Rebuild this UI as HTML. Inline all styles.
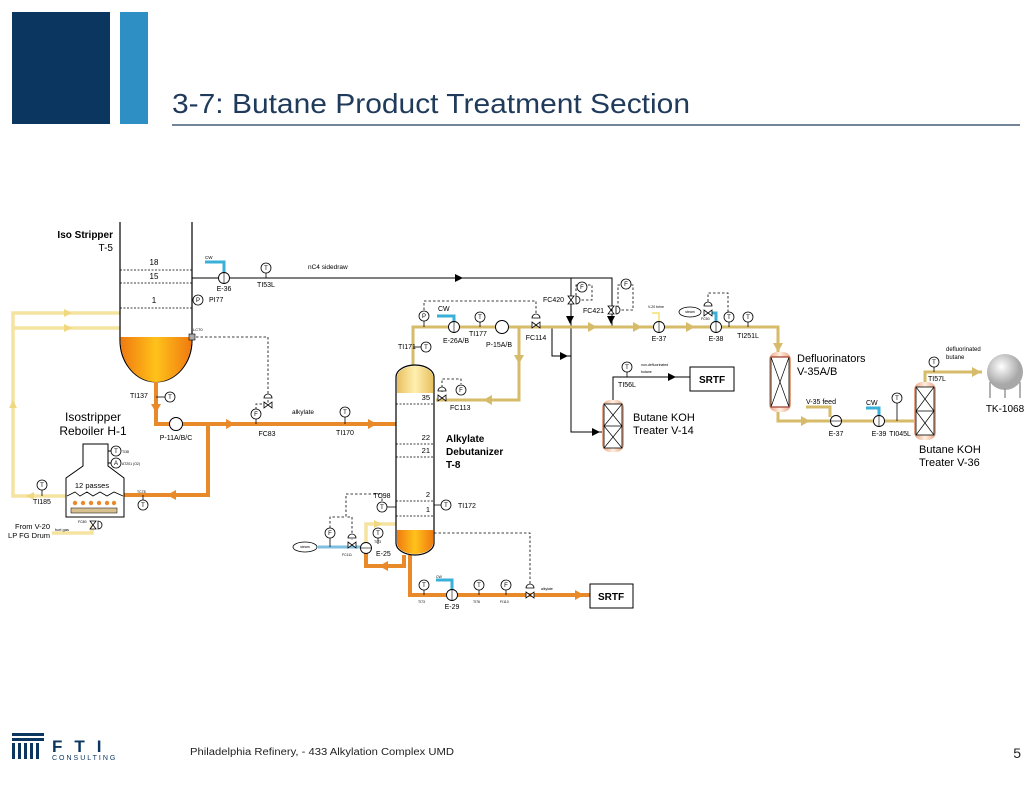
<!DOCTYPE html>
<html><head><meta charset="utf-8"><style>
html,body{margin:0;padding:0;background:#fff;}
body{width:1032px;height:792px;position:relative;overflow:hidden;font-family:"Liberation Sans",sans-serif;}
svg text{font-family:"Liberation Sans",sans-serif;}
</style></head><body>
<svg width="1032" height="792" viewBox="0 0 1032 792" xmlns="http://www.w3.org/2000/svg">
<defs>
<linearGradient id="org" x1="0" x2="1"><stop offset="0" stop-color="#f07a10"/><stop offset="0.5" stop-color="#ffc21a"/><stop offset="1" stop-color="#f07a10"/></linearGradient>
<linearGradient id="yel" x1="0" x2="1"><stop offset="0" stop-color="#e8c060"/><stop offset="0.5" stop-color="#fff0b0"/><stop offset="1" stop-color="#e8c060"/></linearGradient>
<linearGradient id="pnk" x1="0" x2="1"><stop offset="0" stop-color="#e8a080"/><stop offset="0.5" stop-color="#fff0e0"/><stop offset="1" stop-color="#e8a080"/></linearGradient>
<radialGradient id="sph" cx="0.4" cy="0.35"><stop offset="0" stop-color="#fff"/><stop offset="1" stop-color="#a8a8a8"/></radialGradient>
<marker id="ab" markerWidth="8" markerHeight="8" refX="4" refY="4" orient="auto"><path d="M0,0 L8,4 L0,8 z" fill="#000"/></marker>
</defs>
<!-- header -->
<rect x="12" y="12" width="98" height="112" fill="#0b3660"/>
<rect x="120" y="12" width="28" height="112" fill="#2d8fc4"/>
<text x="172" y="113" font-size="28" fill="#1f3a5a" textLength="518" lengthAdjust="spacingAndGlyphs">3-7: Butane Product Treatment Section</text>
<line x1="172" y1="125" x2="1020" y2="125" stroke="#1f3a5a" stroke-width="1.2"/>

<!-- yellow recycle lines -->
<g stroke="#f5e3a0" stroke-width="3.5" fill="none">
<path d="M120,313 H13 V496 H66"/>
<path d="M120,328 H13"/>
<path d="M52,533 H92 V525"/>
</g>
<g fill="#f0d880"><path d="M64,309 l8,4 l-8,4z"/><path d="M64,324 l8,4 l-8,4z"/><path d="M9,408 l4,-8 l4,8z"/><path d="M34,492 l-8,4 l8,4z"/></g>

<!-- Iso stripper column -->
<path d="M120,222 V340 A36,42 0 0 0 192,340 V222" fill="#fff" stroke="#000" stroke-width="1.2"/>
<path d="M120.6,337 H191.4 V340 A35.4,42 0 0 1 120.6,340 Z" fill="url(#org)"/>
<g stroke="#000" stroke-dasharray="2,1.5" stroke-width="0.8"><line x1="120" y1="270" x2="192" y2="270"/><line x1="120" y1="283" x2="192" y2="283"/><line x1="120" y1="308" x2="192" y2="308"/></g>
<g font-size="8" text-anchor="middle"><text x="154" y="265">18</text><text x="154" y="279">15</text><text x="154" y="303">1</text></g>
<text x="113" y="238" font-size="10" font-weight="bold" text-anchor="end">Iso Stripper</text>
<text x="113" y="251" font-size="10" text-anchor="end">T-5</text>

<!-- sidedraw -->
<g stroke="#000" stroke-width="1" fill="none">
<path d="M192,278 H612 V326"/>
<path d="M571,278 V432 H603"/>
<path d="M552,328 V356 H571"/>
<path d="M192,300 H193"/>
</g>
<g fill="#000"><path d="M455,274 l8,4 l-8,4z"/><path d="M607,316 l4,8 l4,-8z"/><path d="M566,316 l4,8 l4,-8z"/><path d="M560,352 l8,4 l-8,4z"/><path d="M592,428 l8,4 l-8,4z"/></g>
<path d="M205,262 H224 V272" stroke="#3ab0d8" stroke-width="3" fill="none"/>
<text x="205" y="259" font-size="4.5">CW</text>
<text x="308" y="269" font-size="6.5">nC4 sidedraw</text>

<!-- dashed control -->
<g stroke="#000" stroke-dasharray="2.5,2" stroke-width="0.8" fill="none">
<path d="M196,337 H268 V405"/>
<path d="M256,414 V404 H268"/>
<path d="M424,310 V301 H536 V318"/>
<path d="M442,392 V379 H461 V384"/>
<path d="M434,533 H530 V588"/>
<path d="M382,501 V494 H346 V517 H352 V540"/>
<path d="M330,528 V517 H346"/>
<path d="M576,300 V285 H582 H592 V300 H580"/>
<path d="M618,308 V285 H633 V310 H620"/>
<path d="M708,306 V293 H728 V313"/>
</g>
<rect x="189" y="334" width="6" height="6" fill="#aaa" stroke="#000" stroke-width="0.6"/>
<text x="193" y="331" font-size="4">LC70</text>

<!-- orange bottoms -->
<g stroke="#e8892a" stroke-width="4" fill="none">
<path d="M156,382 V424 H396"/>
<path d="M208,424 V495 H124"/>
<path d="M410,555 V595 H590"/>
<path d="M404,555 V566 H366 V553"/>
</g>
<g fill="#e8892a"><path d="M151,404 l5,9 l5,-9z"/><path d="M226,419 l9,5 l-9,5z"/><path d="M368,419 l9,5 l-9,5z"/><path d="M176,490 l-9,5 l9,5z"/><path d="M575,590 l9,5 l-9,5z"/><path d="M388,561 l-9,5 l9,5z"/></g>
<path d="M366,543 V524 H396" stroke="#f5e3a0" stroke-width="3.5" fill="none"/>
<path d="M374,520 l8,4 l-8,4z" fill="#f0d880"/>
<path d="M318,547 H362" stroke="#7fbfe0" stroke-width="3" fill="none"/>

<!-- overhead tan -->
<g stroke="#d6bb6a" stroke-width="3" fill="none">
<path d="M413,365 V327 H778 V352"/>
<path d="M519,327 V400 H436"/>
<path d="M778,410 V421 H915"/>
<path d="M806,407 H830 V417"/>
<path d="M925,383 V372 H982"/>
</g>
<path d="M613,400 V377 H690" stroke="#000" stroke-width="1" fill="none"/>
<path d="M668,373 l8,4 l-8,4z"/>
<g fill="#d6bb6a"><path d="M514,355 l5,9 l5,-9z"/><path d="M492,395 l-9,5 l9,5z"/><path d="M588,322 l9,5 l-9,5z"/><path d="M633,322 l9,5 l-9,5z"/><path d="M686,322 l9,5 l-9,5z"/><path d="M773,343 l5,9 l5,-9z"/><path d="M801,416 l9,5 l-9,5z"/><path d="M972,367 l9,5 l-9,5z"/></g>
<g stroke="#3ab0d8" stroke-width="3" fill="none">
<path d="M437,316 H454 V322"/>
<path d="M436,580 H452 V590"/>
<path d="M866,408 H879 V416"/>
<path d="M712,313 H716 V322"/>
</g>
<path d="M652,313 H659 V322" stroke="#f0e070" stroke-width="1.5" fill="none"/>

<!-- debutanizer -->
<rect x="396" y="365" width="38" height="190" rx="19" ry="12" fill="#fff" stroke="#000" stroke-width="1.2"/>
<path d="M397,393 V377 A18,11 0 0 1 433,377 V393 Z" fill="url(#yel)"/>
<path d="M397,530 V543 A18,11 0 0 0 433,543 V530 Z" fill="url(#org)"/>
<g stroke="#000" stroke-dasharray="2,1.5" stroke-width="0.8"><line x1="396" y1="404" x2="434" y2="404"/><line x1="396" y1="444" x2="434" y2="444"/><line x1="396" y1="457" x2="434" y2="457"/><line x1="396" y1="501" x2="434" y2="501"/><line x1="396" y1="516" x2="434" y2="516"/></g>
<g font-size="7.5" text-anchor="end"><text x="430" y="400">35</text><text x="430" y="440">22</text><text x="430" y="453">21</text><text x="430" y="497">2</text><text x="430" y="512">1</text></g>
<g font-size="10" font-weight="bold"><text x="446" y="442">Alkylate</text><text x="446" y="455">Debutanizer</text><text x="446" y="468">T-8</text></g>

<!-- vessels -->
<g>
<rect x="602" y="400" width="22" height="52" rx="8" fill="url(#pnk)"/>
<rect x="604" y="404" width="18" height="44" fill="#fff" stroke="#000" stroke-width="0.8"/>
<path d="M604,404 L622,426 M622,404 L604,426 M604,426 H622 M604,426 L622,448 M622,426 L604,448" stroke="#000" stroke-width="0.7"/>
</g>
<g>
<rect x="769" y="352" width="22" height="60" rx="8" fill="url(#pnk)"/>
<rect x="771" y="357" width="18" height="50" fill="#fff" stroke="#000" stroke-width="0.8"/>
<path d="M771,357 L789,407 M789,357 L771,407" stroke="#000" stroke-width="0.7"/>
<line x1="771" y1="357" x2="789" y2="357" stroke="#a04030" stroke-width="1.2"/><line x1="771" y1="407" x2="789" y2="407" stroke="#a04030" stroke-width="1.2"/>
</g>
<g>
<rect x="914" y="382" width="22" height="58" rx="8" fill="url(#pnk)"/>
<rect x="916" y="387" width="18" height="48" fill="#fff" stroke="#000" stroke-width="0.8"/>
<path d="M916,387 L934,411 M934,387 L916,411 M916,411 H934 M916,411 L934,435 M934,411 L916,435" stroke="#000" stroke-width="0.7"/>
</g>
<circle cx="1005" cy="372" r="18" fill="url(#sph)"/>
<g stroke="#999" stroke-width="1.5"><line x1="990" y1="382" x2="990" y2="398"/><line x1="1020" y1="382" x2="1020" y2="398"/><line x1="1005" y1="388" x2="1005" y2="398"/></g>
<text x="1005" y="412" font-size="10" text-anchor="middle">TK-1068</text>

<!-- SRTF boxes -->
<rect x="690" y="367" width="44" height="24" fill="#fff" stroke="#000" stroke-width="1"/>
<text x="712" y="383" font-size="10" font-weight="bold" text-anchor="middle">SRTF</text>
<rect x="590" y="584" width="43" height="24" fill="#fff" stroke="#000" stroke-width="1"/>
<text x="611" y="600" font-size="10" font-weight="bold" text-anchor="middle">SRTF</text>

<!-- heater -->
<path d="M83,444 H108 V466 L124,478 V517 H66 V478 L83,466 Z" fill="#fff" stroke="#000" stroke-width="1"/>
<text x="92" y="488" font-size="7.5" text-anchor="middle">12 passes</text>
<path d="M67,496 L75,492 L80,496 L87,492 L93,496 L100,492 L107,496 L114,492 L123,496" stroke="#000" stroke-width="0.8" fill="none"/>
<g fill="#e8892a"><circle cx="75" cy="503" r="2.2"/><circle cx="83" cy="503" r="2.2"/><circle cx="91" cy="503" r="2.2"/><circle cx="99" cy="503" r="2.2"/><circle cx="107" cy="503" r="2.2"/><circle cx="114" cy="503" r="2.2"/></g>
<rect x="71" y="508" width="46" height="5" fill="#d8c090" stroke="#000" stroke-width="0.5"/>
<text x="93" y="421" font-size="12" text-anchor="middle">Isostripper</text>
<text x="93" y="435" font-size="12" text-anchor="middle">Reboiler H-1</text>
<g font-size="7.5" text-anchor="end"><text x="50" y="529">From V-20</text><text x="50" y="538">LP FG Drum</text></g>
<text x="55" y="531" font-size="4">fuel gas</text>
<line x1="108" y1="451" x2="112" y2="451" stroke="#000"/><line x1="108" y1="463" x2="112" y2="463" stroke="#000"/>

<!-- pumps -->
<g fill="#fff" stroke="#000" stroke-width="1"><circle cx="176" cy="424" r="6.5"/><circle cx="502" cy="327" r="6.5"/></g>

<!-- exchangers -->
<g fill="#fff" stroke="#000" stroke-width="0.9">
<circle cx="224" cy="278" r="5.5"/><circle cx="454" cy="327" r="5.5"/><circle cx="659" cy="327" r="5.5"/><circle cx="716" cy="327" r="5.5"/><circle cx="836" cy="421" r="5.5"/><circle cx="879" cy="421" r="5.5"/><circle cx="452" cy="595" r="5.5"/><circle cx="366" cy="548" r="5.5"/>
</g>
<g stroke="#000" stroke-width="0.6"><line x1="224" y1="273" x2="224" y2="283"/><line x1="454" y1="322" x2="454" y2="332"/><line x1="659" y1="322" x2="659" y2="332"/><line x1="716" y1="322" x2="716" y2="332"/><line x1="831" y1="421" x2="841" y2="421"/><line x1="879" y1="416" x2="879" y2="426"/><line x1="452" y1="590" x2="452" y2="600"/><line x1="361" y1="548" x2="371" y2="548"/></g>

<!-- valves -->
<g fill="#fff" stroke="#000" stroke-width="0.8">
<path d="M264,402 l8,6 v-6 l-8,6z"/><path d="M264,398 a4,4 0 0 1 8,0z"/>
<path d="M532,322 l8,6 v-6 l-8,6z"/><path d="M532,318 a4,4 0 0 1 8,0z"/>
<path d="M438,395 l8,6 v-6 l-8,6z"/><path d="M438,391 a4,4 0 0 1 8,0z"/>
<path d="M526,592 l8,6 v-6 l-8,6z"/><path d="M526,588 a4,4 0 0 1 8,0z"/>
<path d="M348,542 l8,6 v-6 l-8,6z"/><path d="M348,538 a4,4 0 0 1 8,0z"/>
<path d="M704,310 l8,6 v-6 l-8,6z"/><path d="M704,306 a4,4 0 0 1 8,0z"/>
<path d="M568,296 l6,8 h-6 l6,-8z"/><path d="M576,296 a4,4 0 0 1 0,8z"/>
<path d="M608,306 l6,8 h-6 l6,-8z"/><path d="M616,306 a4,4 0 0 1 0,8z"/>
<path d="M90,521 l6,8 h-6 l6,-8z"/><path d="M98,521 a4,4 0 0 1 0,8z"/>
</g>
<g fill="#fff" stroke="#000" stroke-width="0.8"><ellipse cx="305" cy="547" rx="12" ry="5"/><ellipse cx="690" cy="312" rx="11" ry="5"/></g>
<g font-size="3.5" text-anchor="middle"><text x="305" y="548">steam</text><text x="690" y="313">steam</text></g>

<!-- instrument bubbles -->
<g stroke="#000" stroke-width="0.8">
<line x1="266" y1="273" x2="266" y2="278"/><line x1="170" y1="397" x2="156" y2="397"/><line x1="345" y1="417" x2="345" y2="424"/>
<line x1="424" y1="321" x2="424" y2="327"/><line x1="480" y1="322" x2="480" y2="327"/><line x1="426" y1="347" x2="413" y2="347"/>
<line x1="627" y1="372" x2="627" y2="377"/><line x1="729" y1="322" x2="729" y2="327"/><line x1="748" y1="322" x2="748" y2="327"/>
<line x1="897" y1="403" x2="897" y2="421"/><line x1="934" y1="367" x2="934" y2="372"/><line x1="42" y1="490" x2="42" y2="496"/>
<line x1="446" y1="505" x2="434" y2="505"/><line x1="382" y1="507" x2="396" y2="507"/><line x1="424" y1="590" x2="424" y2="595"/>
<line x1="479" y1="590" x2="479" y2="595"/><line x1="506" y1="590" x2="506" y2="595"/><line x1="143" y1="500" x2="143" y2="495"/>
<line x1="378" y1="538" x2="378" y2="544"/><line x1="330" y1="538" x2="330" y2="547"/><line x1="256" y1="419" x2="256" y2="424"/>
</g>
<g fill="#fff" stroke="#000" stroke-width="0.8">
<circle cx="266" cy="268" r="5"/><circle cx="198" cy="300" r="5"/><circle cx="170" cy="397" r="5"/><circle cx="256" cy="414" r="5"/><circle cx="345" cy="412" r="5"/>
<circle cx="116" cy="451" r="5"/><circle cx="116" cy="463" r="5"/><circle cx="42" cy="485" r="5"/><circle cx="143" cy="505" r="5"/>
<circle cx="424" cy="316" r="5"/><circle cx="480" cy="317" r="5"/><circle cx="426" cy="347" r="5"/><circle cx="461" cy="390" r="5"/>
<circle cx="582" cy="287" r="5"/><circle cx="626" cy="284" r="5"/><circle cx="627" cy="367" r="5"/><circle cx="729" cy="317" r="5"/><circle cx="748" cy="317" r="5"/>
<circle cx="897" cy="398" r="5"/><circle cx="934" cy="362" r="5"/><circle cx="446" cy="505" r="5"/><circle cx="382" cy="507" r="5"/>
<circle cx="378" cy="533" r="5"/><circle cx="330" cy="533" r="5"/><circle cx="424" cy="585" r="5"/><circle cx="479" cy="585" r="5"/><circle cx="506" cy="585" r="5"/>
</g>
<g font-size="6" text-anchor="middle">
<text x="266" y="270">T</text><text x="198" y="302">P</text><text x="170" y="399">T</text><text x="256" y="416">F</text><text x="345" y="414">T</text>
<text x="116" y="453">T</text><text x="116" y="465">A</text><text x="42" y="487">T</text><text x="143" y="507">T</text>
<text x="424" y="318">P</text><text x="480" y="319">T</text><text x="426" y="349">T</text><text x="461" y="392">F</text>
<text x="582" y="289">F</text><text x="626" y="286">F</text><text x="627" y="369">T</text><text x="729" y="319">T</text><text x="748" y="319">T</text>
<text x="897" y="400">T</text><text x="934" y="364">T</text><text x="446" y="507">T</text><text x="382" y="509">T</text>
<text x="378" y="535">T</text><text x="330" y="535">F</text><text x="424" y="587">T</text><text x="479" y="587">T</text><text x="506" y="587">F</text>
</g>

<!-- labels -->
<g font-size="7">
<text x="224" y="291" text-anchor="middle">E-36</text>
<text x="266" y="287" text-anchor="middle">TI53L</text>
<text x="209" y="302">PI77</text>
<text x="130" y="398">TI137</text>
<text x="176" y="440" text-anchor="middle">P-11A/B/C</text>
<text x="267" y="436" text-anchor="middle">FC83</text>
<text x="345" y="435" text-anchor="middle">TI170</text>
<text x="42" y="504" text-anchor="middle">TI185</text>
<text x="398" y="349">TI171</text>
<text x="438" y="311">CW</text>
<text x="456" y="343" text-anchor="middle">E-26A/B</text>
<text x="469" y="336">TI177</text>
<text x="499" y="347" text-anchor="middle">P-15A/B</text>
<text x="536" y="340" text-anchor="middle">FC114</text>
<text x="450" y="410">FC113</text>
<text x="543" y="302">FC420</text>
<text x="583" y="313">FC421</text>
<text x="659" y="341" text-anchor="middle">E-37</text>
<text x="716" y="341" text-anchor="middle">E-38</text>
<text x="748" y="338" text-anchor="middle">TI251L</text>
<text x="627" y="387" text-anchor="middle">TI56L</text>
<text x="458" y="508">TI172</text>
<text x="382" y="498" text-anchor="middle">TC98</text>
<text x="376" y="556">E-25</text>
<text x="452" y="609" text-anchor="middle">E-29</text>
<text x="806" y="404">V-35 feed</text>
<text x="866" y="405">CW</text>
<text x="836" y="436" text-anchor="middle">E-37</text>
<text x="879" y="436" text-anchor="middle">E-39</text>
<text x="900" y="436" text-anchor="middle">TI045L</text>
<text x="928" y="381">TI57L</text>
<text x="946" y="351" font-size="6">defluorinated</text>
<text x="946" y="359" font-size="6">butane</text>
</g>
<g font-size="6.5"><text x="292" y="414">alkylate</text></g>
<g font-size="3.5">
<text x="122" y="453">TI38</text><text x="122" y="465">AT201 (O2)</text><text x="137" y="493">TC78</text><text x="78" y="523">FC80</text>
<text x="641" y="366">non-defluorinated</text><text x="641" y="373">butane</text><text x="648" y="308">V-20 brine</text>
<text x="701" y="320">FC50</text><text x="418" y="603">TI73</text><text x="473" y="603">TI76</text><text x="500" y="603">FI110</text>
<text x="541" y="590">alkylate</text><text x="436" y="578">CW</text><text x="374" y="543">TI73</text><text x="342" y="556">FC111</text>
</g>
<g font-size="11"><text x="633" y="421">Butane KOH</text><text x="633" y="434">Treater V-14</text>
<text x="797" y="362">Defluorinators</text><text x="797" y="375">V-35A/B</text>
<text x="919" y="453">Butane KOH</text><text x="919" y="466">Treater V-36</text></g>

<!-- footer -->
<g fill="#0b3660">
<rect x="12" y="733" width="32" height="3"/><rect x="12" y="738" width="32" height="3"/>
<rect x="12" y="743" width="3" height="16"/><rect x="18" y="743" width="3" height="16"/><rect x="24" y="743" width="3" height="16"/><rect x="30" y="743" width="3" height="16"/><rect x="36" y="743" width="3" height="16"/>
</g>
<text x="52" y="752" font-size="17" font-weight="bold" fill="#0b3660" letter-spacing="12">FTI</text>
<text x="52" y="760" font-size="7" fill="#0b3660" letter-spacing="2">CONSULTING</text>
<text x="190" y="755" font-size="10" fill="#222" textLength="264" lengthAdjust="spacingAndGlyphs">Philadelphia Refinery,    -    433 Alkylation Complex UMD</text>
<text x="1021" y="758" font-size="14" fill="#222" text-anchor="end">5</text>
</svg>
</body></html>
